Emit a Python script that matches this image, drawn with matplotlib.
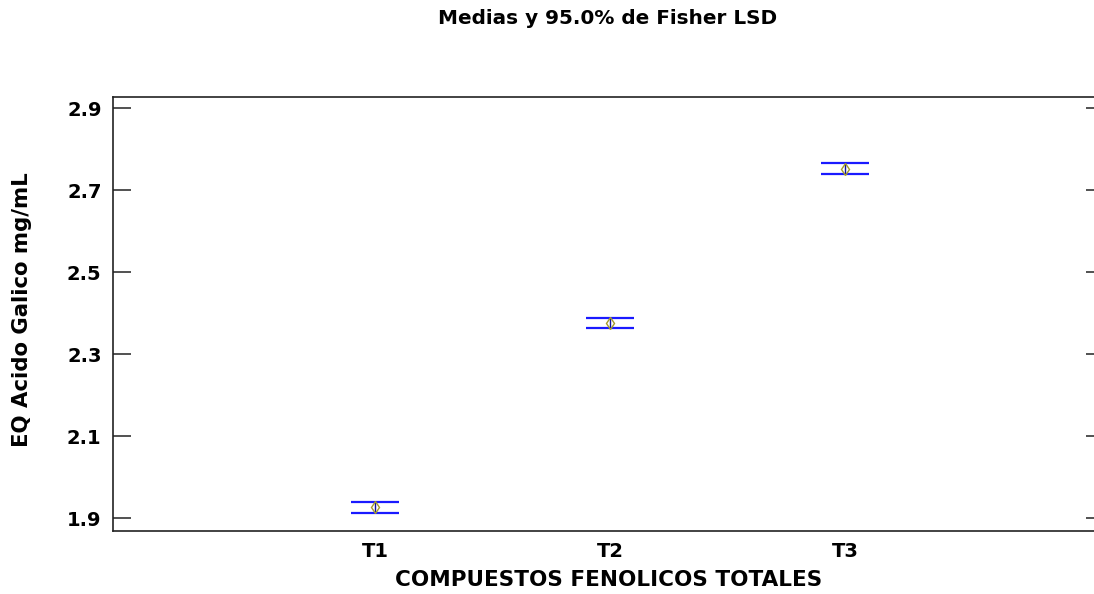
import numpy as np
import matplotlib
matplotlib.use("Agg")
import matplotlib.pyplot as plt

# LSD means plot
groups = ["T1", "T2", "T3"]
means = [1.927, 2.376, 2.753]
lower = [1.913, 2.364, 2.741]
upper = [1.941, 2.388, 2.766]
yticks = [1.9, 2.1, 2.3, 2.5, 2.7, 2.9]

plt.rcParams["font.family"] = "DejaVu Sans"
plt.rcParams["font.weight"] = "bold"

fig = plt.figure(figsize=(10.94, 5.94), dpi=100)
ax = fig.add_axes([112.7 / 1094, 63.3 / 594, (1104 - 112.7) / 1094, 433.4 / 594])

x = np.arange(1, len(groups) + 1)
hw = 0.102
blue = "#1a1aff"
ax.hlines(lower, x - hw, x + hw, color=blue, lw=1.6)
ax.hlines(upper, x - hw, x + hw, color=blue, lw=1.6)
ax.vlines(x, lower, upper, color="#1010a0", lw=1.0)
ax.plot(x, means, ls="none", marker="d", ms=6, mfc="none", mec="#a59c2a", mew=1.0)

ax.set_xlim(-0.116, 4.10)
ax.set_ylim(1.870, 2.927)
ax.set_xticks(x)
ax.set_xticklabels(groups)
ax.set_yticks(yticks)
ax.set_yticklabels([f"{v:.1f}" for v in yticks])
ax.tick_params(axis="y", direction="in", length=13, width=1.2, pad=8,
               left=True, right=True, labelsize=14, colors="#333333", labelcolor="black")
ax.tick_params(axis="x", length=0, pad=8, labelsize=14)
ax.spines["right"].set_visible(False)
for s in ["left", "top", "bottom"]:
    ax.spines[s].set_linewidth(1.2)
    ax.spines[s].set_color("#222222")

ax.set_xlabel("COMPUESTOS FENOLICOS TOTALES", fontsize=15.5, fontweight="bold")
ax.xaxis.set_label_coords((609 - 112.7) / (1104 - 112.7), -0.09)
ax.set_ylabel("EQ Acido Galico mg/mL", fontsize=15.3, fontweight="bold")
ax.yaxis.set_label_coords(-0.0815, 0.509)

fig.text(608 / 1094, 0.985, "Medias y 95.0% de Fisher LSD", ha="center", va="top",
         fontsize=14.4, fontweight="bold")

fig.savefig("out.png", dpi=100)
